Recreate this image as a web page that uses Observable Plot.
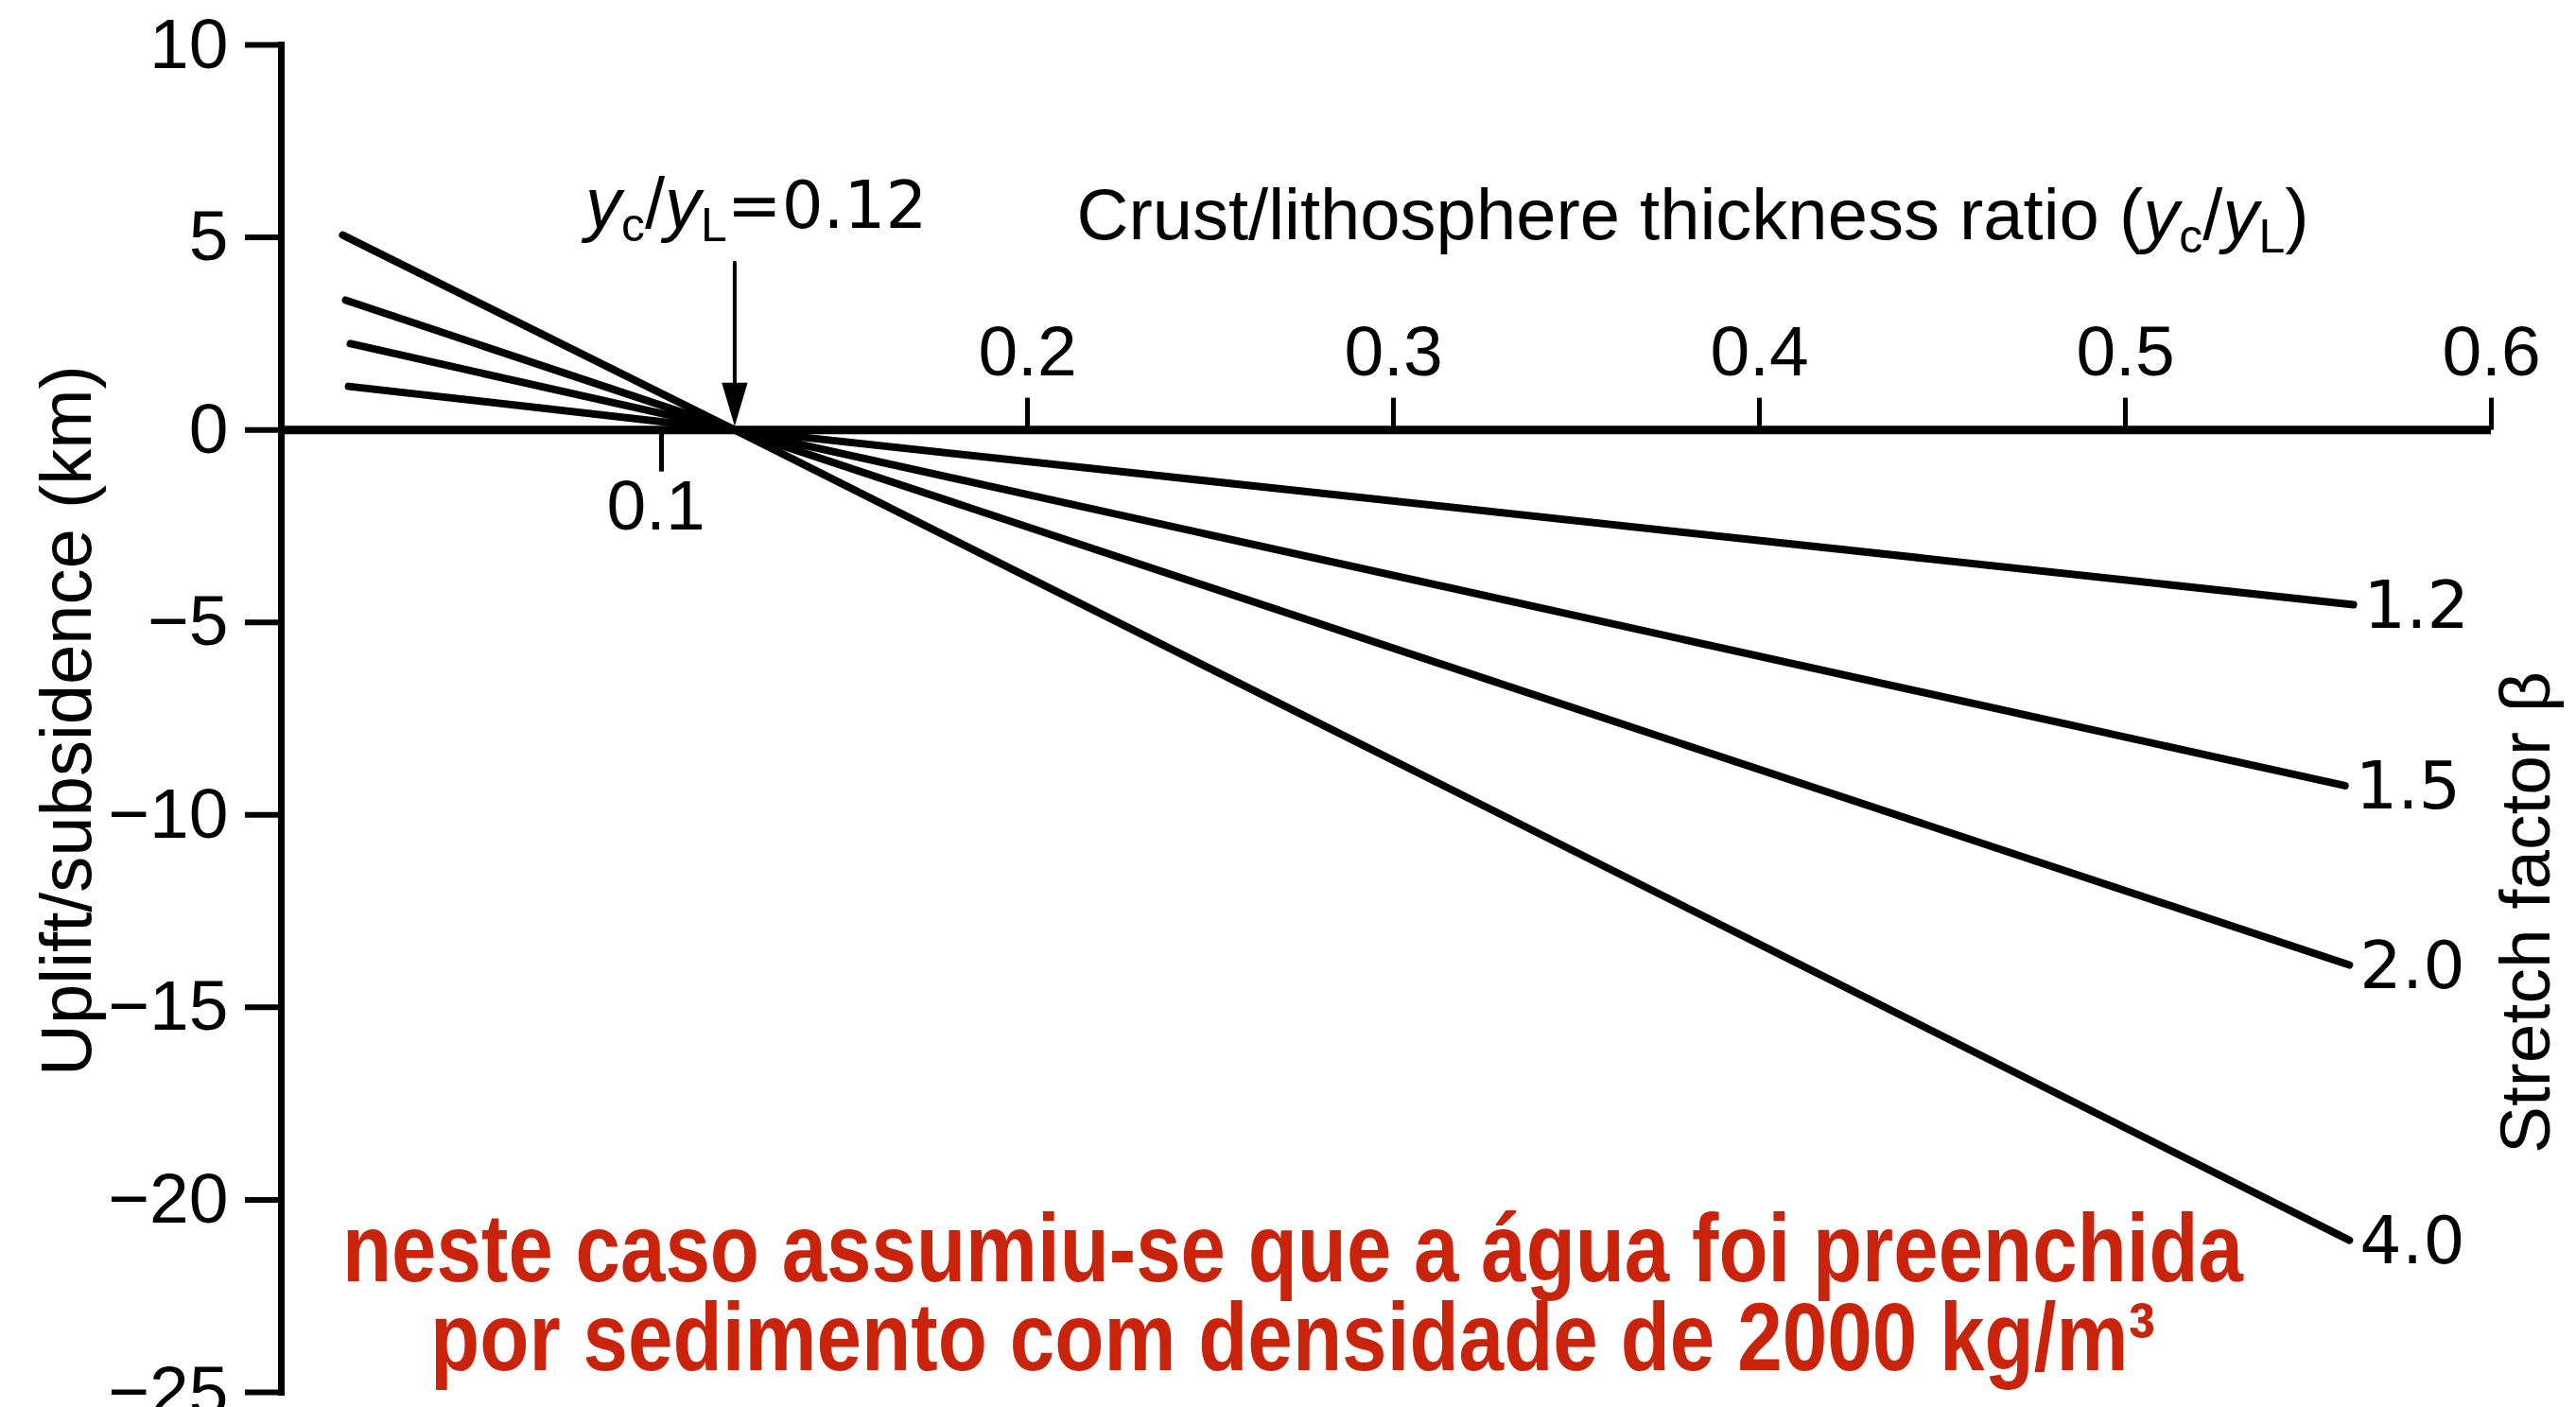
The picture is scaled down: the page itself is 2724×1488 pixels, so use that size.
<!DOCTYPE html>
<html><head><meta charset="utf-8">
<script src="https://cdn.jsdelivr.net/npm/d3@7"></script>
<script src="https://cdn.jsdelivr.net/npm/@observablehq/plot@0.6"></script>
<style>html,body{margin:0;padding:0;background:#fff;} svg{display:block}</style>
</head><body><div id="chart"></div>
<script>
// ---- data ----
const betas  = ["1.2", "1.5", "2.0", "4.0"];           // stretch factor β
const xStart = [0.0145, 0.015, 0.0137, 0.0129];        // yc/yL at left end
const yStart = [1.13, 2.24, 3.37, 5.06];               // uplift (km) at left end
const xCross = 0.12;                                   // common crossing yc/yL
const yCross = 0;
const xEnd   = [0.5623, 0.560, 0.5612, 0.5612];        // yc/yL at right end
const yEnd   = [-4.54, -9.24, -13.9, -21.05];          // subsidence (km) at right end

const yTicks = [10, 5, 0, -5, -10, -15, -20, -25];
const xTicksAbove = [0.2, 0.3, 0.4, 0.5, 0.6];
const xTicksBelow = [0.1];

const yTitle = "Uplift/subsidence (km)";
const rightTitle = "Stretch factor β";
const captionLines = [
  "neste caso assumiu-se que a água foi preenchida",
  "por sedimento com densidade de 2000 kg/m³"
];

// ---- build tables ----
const lineRows = betas.flatMap((b, i) => [
  {beta: b, x: xStart[i], y: yStart[i]},
  {beta: b, x: xCross, y: yCross},
  {beta: b, x: xEnd[i], y: yEnd[i]}
]);
const endRows = betas.map((b, i) => ({beta: b, x: xEnd[i], y: yEnd[i]}));
const fmt1 = d3.format(".1f");

const tickShape = {draw(ctx, l) { ctx.moveTo(0, 0); ctx.lineTo(0, -l); }};
const arrowShape = {draw(ctx, l) {
  ctx.moveTo(0, 0); ctx.lineTo(0, -l + 30);
  ctx.moveTo(-11, -l + 37); ctx.lineTo(0, -l); ctx.lineTo(11, -l + 37); ctx.closePath();
}};

const FONT = "Liberation Sans, Arial, sans-serif";
const RED = "#c9240b";

const plot = Plot.plot({
  width: 2724,
  height: 1488,
  marginTop: 47,
  marginBottom: 16,
  marginLeft: 297,
  marginRight: 90,
  style: {background: "white", color: "black", fontFamily: FONT},
  x: {domain: [0, 0.6], insetLeft: 15, axis: null},
  y: {domain: [-25, 10], axis: null},
  marks: [
    // data lines
    Plot.line(lineRows, {x: "x", y: "y", z: "beta", stroke: "black", strokeWidth: 8, strokeLinecap: "round"}),
    // y axis
    Plot.frame({anchor: "left", stroke: "black", strokeWidth: 7}),
    Plot.axisY(yTicks, {anchor: "left", tickSize: 38, tickPadding: 18, strokeWidth: 6,
      fontSize: 75, fontFamily: FONT, tickFormat: d3.format("d"), label: null}),
    // x axis (drawn along y = 0)
    Plot.ruleY([0], {stroke: "black", strokeWidth: 9}),
    Plot.vector(xTicksAbove, {x: d => d, y: 0, length: 34, anchor: "start", rotate: 0,
      shape: tickShape, stroke: "black", strokeWidth: 5, strokeLinecap: "butt"}),
    Plot.vector(xTicksBelow, {x: d => d, y: 0, length: 44, anchor: "start", rotate: 180,
      shape: tickShape, stroke: "black", strokeWidth: 5, strokeLinecap: "butt"}),
    Plot.text(xTicksAbove, {x: d => d, y: 0, text: d => fmt1(d), dy: -58, lineAnchor: "bottom",
      fontSize: 75, fontFamily: FONT}),
    Plot.text(xTicksBelow, {x: d => d, y: 0, text: d => fmt1(d), dy: 52, dx: -6, lineAnchor: "top",
      fontSize: 75, fontFamily: FONT}),
    // arrow at crossing
    Plot.vector([xCross], {x: d => d, y: yCross, length: 166, anchor: "end", rotate: 180, dy: -11,
      shape: arrowShape, stroke: "black", fill: "black", strokeWidth: 4, strokeLinejoin: "miter"}),
    Plot.text([xCross], {x: d => d, y: yCross, text: d => "eq", dx: -158, dy: -214,
      textAnchor: "start", lineAnchor: "bottom", fontSize: 76, fontFamily: FONT, className: "eqlabel"}),
    // x title
    Plot.text(["title"], {frameAnchor: "top-left", text: d => d, dx: 841, dy: 205,
      textAnchor: "start", lineAnchor: "bottom", fontSize: 76, fontFamily: FONT, className: "xtitle"}),
    // y title
    Plot.text([yTitle], {frameAnchor: "left", text: d => d, rotate: -90, dx: -202, dy: 2,
      textAnchor: "middle", lineAnchor: "bottom", fontSize: 76, fontFamily: FONT}),
    // β labels at line ends
    Plot.text(endRows, {x: "x", y: "y", text: "beta", dx: 11, dy: 2, textAnchor: "start",
      lineAnchor: "middle", fontSize: 70, fontFamily: "DejaVu Sans"}),
    Plot.text([rightTitle], {frameAnchor: "right", text: d => d, rotate: -90, dx: 61, dy: 205,
      textAnchor: "middle", lineAnchor: "bottom", fontSize: 75, fontFamily: FONT}),
    // red caption (two lines)
    Plot.text([captionLines[0]], {frameAnchor: "bottom", text: d => d, dx: -99, dy: -118,
      textAnchor: "middle", lineAnchor: "bottom", fontSize: 102,
      fontWeight: "bold", fontFamily: FONT, fill: RED, className: "cap1"}),
    Plot.text([captionLines[1]], {frameAnchor: "bottom", text: d => d, dx: -99, dy: -24,
      textAnchor: "middle", lineAnchor: "bottom", fontSize: 102,
      fontWeight: "bold", fontFamily: FONT, fill: RED, className: "cap2"})
  ]
});

// rich text (italic symbols with subscripts)
function rich(sel, parts) {
  sel.each(function() {
    const t = d3.select(this);
    t.text(null);
    let shift = 0;
    for (const p of parts) {
      const s = t.append("tspan").text(p.t);
      if (p.i) s.attr("font-style", "italic");
      if (p.f) s.attr("font-family", p.f);
      if (p.fs) s.attr("font-size", p.fs);
      if (p.sub) { s.attr("font-size", 50).attr("dy", 14 - shift); shift = 14; }
      else if (shift) { s.attr("dy", -shift); shift = 0; }
    }
  });
}
const svg = d3.select(plot);
rich(svg.selectAll(".xtitle text"), [
  {t: "Crust/lithosphere thickness ratio ("}, {t: "y", i: true}, {t: "c", sub: true},
  {t: "/"}, {t: "y", i: true}, {t: "L", sub: true}, {t: ")"}
]);
rich(svg.selectAll(".eqlabel text"), [
  {t: "y", i: true}, {t: "c", sub: true}, {t: "/"}, {t: "y", i: true}, {t: "L", sub: true},
  {t: "=0.12", f: "DejaVu Sans", fs: 69}
]);
// condensed caption lettering, as in the reference
svg.selectAll(".cap1 text").attr("textLength", 2010).attr("lengthAdjust", "spacingAndGlyphs");
svg.selectAll(".cap2 text").attr("textLength", 1824).attr("lengthAdjust", "spacingAndGlyphs");

document.getElementById("chart").appendChild(plot);
</script>
</body></html>
